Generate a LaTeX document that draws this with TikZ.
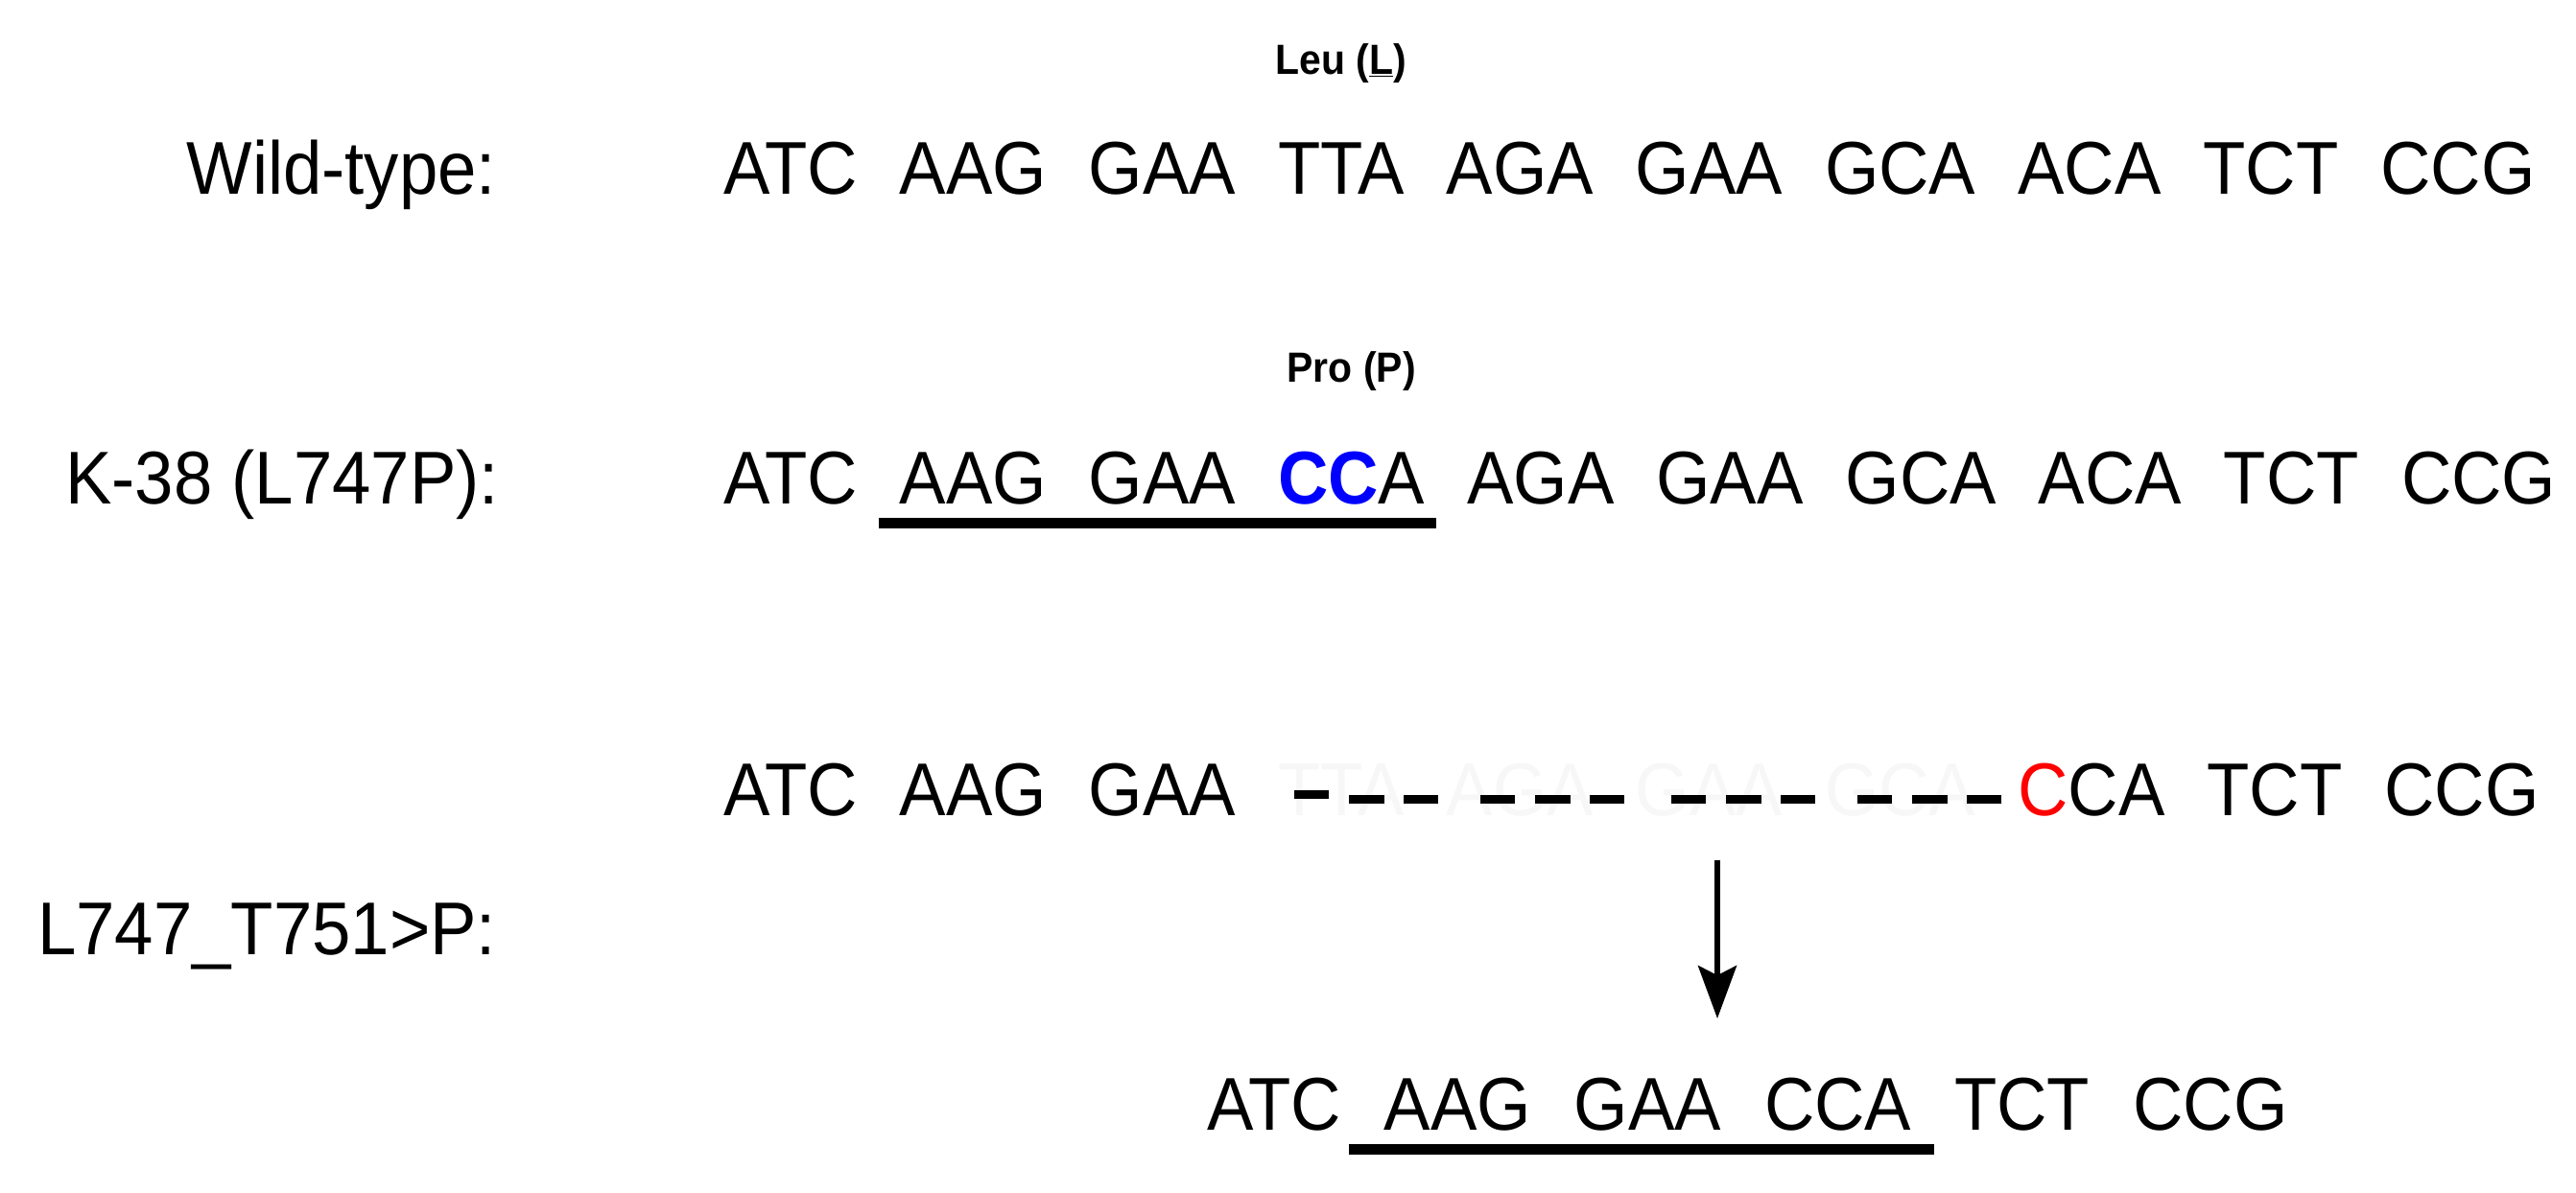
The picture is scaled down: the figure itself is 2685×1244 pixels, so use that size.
\documentclass[tikz,border=0pt]{standalone}
\usepackage{fontspec}
\setmainfont{Liberation Sans}[FakeStretch=0.93]
\usetikzlibrary{arrows.meta}
\definecolor{mutblue}{RGB}{0,0,255}
\definecolor{mutred}{RGB}{255,0,0}
\def\codgap{44pt}
\begin{document}
\begin{tikzpicture}[x=1pt,y=-1pt,
  seq/.style={font=\fontsize{78}{82}\selectfont, inner sep=0pt, outer sep=0pt, anchor=base west},
  rowlabel/.style={font=\fontsize{78}{82}\selectfont, inner sep=0pt, outer sep=0pt, anchor=base east},
  aalabel/.style={font=\bfseries\fontsize{44}{48}\selectfont, inner sep=0pt, outer sep=0pt, anchor=base},
  ghost/.style={seq, text=black!3},
  uline/.style={line width=11pt},
  gapdash/.style={line width=9pt},
  arrowline/.style={line width=6pt, -{Stealth[length=55pt,width=40pt,inset=10pt]}},
]
\useasboundingbox[fill=white] (0,0) rectangle (2685,1244);

% ---- Wild-type row
\node[rowlabel] (lwt) at (517,202) {Wild-type:};
\node[seq] (w1) at (754,202) {ATC};
\node[seq] (w2) at ([xshift=\codgap]w1.base east) {AAG};
\node[seq] (w3) at ([xshift=\codgap]w2.base east) {GAA};
\node[seq] (w4) at ([xshift=\codgap]w3.base east) {TTA};
\node[seq] (w5) at ([xshift=\codgap]w4.base east) {AGA};
\node[seq] (w6) at ([xshift=\codgap]w5.base east) {GAA};
\node[seq] (w7) at ([xshift=\codgap]w6.base east) {GCA};
\node[seq] (w8) at ([xshift=\codgap]w7.base east) {ACA};
\node[seq] (w9) at ([xshift=\codgap]w8.base east) {TCT};
\node[seq] (w10) at ([xshift=\codgap]w9.base east) {CCG};
\path (w4.base) ++(0,-124) node[aalabel] (leu) {Leu (\underline{L})};

% ---- K-38 row
\node[rowlabel] (lk) at (520,525) {K-38 (L747P):};
\node[seq] (k1) at (754,525) {ATC};
\node[seq] (k2) at ([xshift=\codgap]k1.base east) {AAG};
\node[seq] (k3) at ([xshift=\codgap]k2.base east) {GAA};
\node[seq] (k4) at ([xshift=\codgap]k3.base east) {\textcolor{mutblue}{\bfseries CC}A};
\node[seq] (k5) at ([xshift=\codgap]k4.base east) {AGA};
\node[seq] (k6) at ([xshift=\codgap]k5.base east) {GAA};
\node[seq] (k7) at ([xshift=\codgap]k6.base east) {GCA};
\node[seq] (k8) at ([xshift=\codgap]k7.base east) {ACA};
\node[seq] (k9) at ([xshift=\codgap]k8.base east) {TCT};
\node[seq] (k10) at ([xshift=\codgap]k9.base east) {CCG};
\path (k4.base) ++(0,-127) node[aalabel] (pro) {Pro (P)};
\draw[uline] ([xshift=-22pt,yshift=-20pt]k2.base west) -- ([xshift=12pt,yshift=-20pt]k4.base east);

% ---- deletion row
\node[rowlabel] (ldel) at (517,995) {L747\_T751>P:};
\node[seq] (d1) at (754,850) {ATC};
\node[seq] (d2) at ([xshift=\codgap]d1.base east) {AAG};
\node[seq] (d3) at ([xshift=\codgap]d2.base east) {GAA};
\node[ghost] (g4) at (w4.base west |- d1.base west) {TTA};
\node[ghost] (g5) at (w5.base west |- d1.base west) {AGA};
\node[ghost] (g6) at (w6.base west |- d1.base west) {GAA};
\node[ghost] (g7) at (w7.base west |- d1.base west) {GCA};
\node[seq] (d8) at (w8.base west |- d1.base west) {\textcolor{mutred}{C}CA};
\node[seq] (d9) at ([xshift=\codgap]d8.base east) {TCT};
\node[seq] (d10) at ([xshift=\codgap]d9.base east) {CCG};
\draw[gapdash] (1349,828) -- (1385,828);
\foreach \s/\f in {1349/1, 1543/0, 1742/0, 1936/0}{
  \ifnum\f=0 \draw[gapdash] (\s,833) -- ++(36,0); \fi
  \draw[gapdash] (\s+57,833) -- ++(37,0);
  \draw[gapdash] (\s+114,833) -- ++(36,0);
}

% ---- arrow
\coordinate (atop) at (1790,897);
\coordinate (abot) at (1790,1062);
\draw[arrowline] (atop) -- (abot);

% ---- result row
\node[seq] (b1) at (1258,1178) {ATC};
\node[seq] (b2) at ([xshift=45pt]b1.base east) {AAG};
\node[seq] (b3) at ([xshift=45pt]b2.base east) {GAA};
\node[seq] (b4) at ([xshift=45pt]b3.base east) {CCA};
\node[seq] (b5) at ([xshift=45pt]b4.base east) {TCT};
\node[seq] (b6) at ([xshift=45pt]b5.base east) {CCG};
\draw[uline] ([xshift=-37pt,yshift=-20pt]b2.base west) -- ([xshift=24pt,yshift=-20pt]b4.base east);
\end{tikzpicture}
\end{document}
